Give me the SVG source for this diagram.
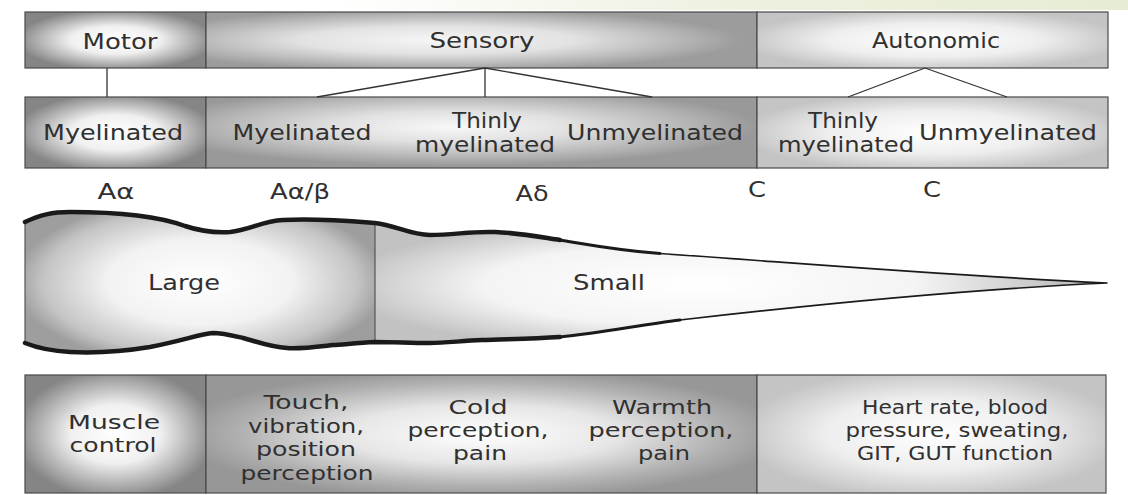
<svg xmlns="http://www.w3.org/2000/svg" width="1128" height="495" viewBox="0 0 1128 495">
<style>
.t{font-family:"DejaVu Sans","Liberation Sans",sans-serif;font-size:22px;fill:#303030;text-anchor:middle}
.s{font-size:21px}
.b{font-size:20px}
.box{stroke:#4a4a4a;stroke-width:1.2}
.con{stroke:#333;stroke-width:1.3;fill:none}
.edge{stroke:#1a1a1a;fill:none;stroke-linecap:round;stroke-linejoin:round}
</style>
<defs>
<linearGradient id="band" x1="0" y1="0" x2="1" y2="0">
<stop offset="0.3" stop-color="#ffffff"/>
<stop offset="0.65" stop-color="#eef0e0"/>
<stop offset="1" stop-color="#e6edd4"/>
</linearGradient>
<radialGradient id="gDark" cx="0.5" cy="0.5" r="0.55">
<stop offset="0" stop-color="#ffffff"/>
<stop offset="0.45" stop-color="#f0f0f0"/>
<stop offset="0.78" stop-color="#b0b0b0"/>
<stop offset="1" stop-color="#858585"/>
</radialGradient>
<radialGradient id="gSens1" cx="0.42" cy="0.5" r="0.55">
<stop offset="0" stop-color="#f6f6f6"/>
<stop offset="0.45" stop-color="#e2e2e2"/>
<stop offset="0.8" stop-color="#b6b6b6"/>
<stop offset="1" stop-color="#9c9c9c"/>
</radialGradient>
<radialGradient id="gSens2" cx="0.45" cy="0.42" r="0.55">
<stop offset="0" stop-color="#f8f8f8"/>
<stop offset="0.4" stop-color="#e0e0e0"/>
<stop offset="0.8" stop-color="#b2b2b2"/>
<stop offset="1" stop-color="#999999"/>
</radialGradient>
<radialGradient id="gSens3" cx="0.5" cy="0.5" r="0.55">
<stop offset="0" stop-color="#ffffff"/>
<stop offset="0.45" stop-color="#e6e6e6"/>
<stop offset="0.8" stop-color="#b0b0b0"/>
<stop offset="1" stop-color="#979797"/>
</radialGradient>
<radialGradient id="gAuto" cx="0.5" cy="0.5" r="0.55">
<stop offset="0" stop-color="#ffffff"/>
<stop offset="0.55" stop-color="#eeeeee"/>
<stop offset="1" stop-color="#c4c4c4"/>
</radialGradient>
<radialGradient id="gLarge" gradientUnits="userSpaceOnUse" cx="200" cy="282" r="1" gradientTransform="translate(200 282) scale(185 85) translate(-200 -282)">
<stop offset="0" stop-color="#ffffff"/>
<stop offset="0.5" stop-color="#f2f2f2"/>
<stop offset="0.85" stop-color="#c4c4c4"/>
<stop offset="1" stop-color="#9e9e9e"/>
</radialGradient>
<radialGradient id="gSmall" gradientUnits="userSpaceOnUse" cx="700" cy="285" r="1" gradientTransform="translate(700 285) scale(360 68) translate(-700 -285)">
<stop offset="0" stop-color="#ffffff"/>
<stop offset="0.6" stop-color="#f4f4f4"/>
<stop offset="1" stop-color="#c2c2c2"/>
</radialGradient>
<clipPath id="cL"><rect x="0" y="180" width="375" height="200"/></clipPath>
<clipPath id="cR"><rect x="375" y="180" width="753" height="200"/></clipPath>
<path id="fiber" d="M25,222 C40,215 52,212 70,212 C110,212 155,215 185,226 C200,231 215,233 230,232 C250,230 262,221 283,220 C315,218 350,221 375,223 C395,225 410,235 430,235 C455,235 470,231 495,232 C520,233 540,237 560,240 C585,244 615,250 660,253.5 C810,264 955,276 1107,283 C955,290 810,305 680,320 C640,325 600,333 560,337 C530,339 505,339 482,340 C460,341 445,343 430,343 C410,343 395,342 375,342 C355,343 340,345 333,345 C315,347 300,349 287,348 C270,347 255,341 243,338 C230,335 222,333 213,333 C200,334 185,340 150,347 C120,352 90,353 70,352 C50,351 35,347 25,343 Z"/>
</defs>

<rect x="0" y="0" width="1128" height="495" fill="#ffffff"/>
<rect x="0" y="0" width="1128" height="10" fill="url(#band)"/>

<!-- Row 1 -->
<g id="motor">
<rect class="box" x="25" y="12" width="181" height="56" fill="url(#gDark)"/>
<text class="t" x="120" y="49" textLength="75" lengthAdjust="spacingAndGlyphs">Motor</text>
</g>
<g id="sensory">
<rect class="box" x="206" y="12" width="551" height="56" fill="url(#gSens1)"/>
<text class="t" x="482" y="48" textLength="105" lengthAdjust="spacingAndGlyphs">Sensory</text>
</g>
<g id="autonomic">
<rect class="box" x="757" y="12" width="351" height="56" fill="url(#gAuto)"/>
<text class="t" x="936" y="48" textLength="128" lengthAdjust="spacingAndGlyphs">Autonomic</text>
</g>

<!-- Row 2 -->
<g id="motor-myelinated">
<rect class="box" x="25" y="97" width="181" height="71" fill="url(#gDark)"/>
<text class="t" x="113" y="140" textLength="140" lengthAdjust="spacingAndGlyphs">Myelinated</text>
</g>
<g id="sensory-fibres">
<rect class="box" x="206" y="97" width="551" height="71" fill="url(#gSens2)"/>
<text class="t" x="302" y="140" textLength="139" lengthAdjust="spacingAndGlyphs">Myelinated</text>
<text class="t" x="487" y="128" textLength="70" lengthAdjust="spacingAndGlyphs">Thinly</text>
<text class="t" x="485" y="152" textLength="140" lengthAdjust="spacingAndGlyphs">myelinated</text>
<text class="t" x="655" y="140" textLength="176" lengthAdjust="spacingAndGlyphs">Unmyelinated</text>
</g>
<g id="autonomic-fibres">
<rect class="box" x="757" y="97" width="351" height="71" fill="url(#gAuto)"/>
<text class="t" x="843" y="128" textLength="70" lengthAdjust="spacingAndGlyphs">Thinly</text>
<text class="t" x="846" y="152" textLength="136" lengthAdjust="spacingAndGlyphs">myelinated</text>
<text class="t" x="1008" y="140" textLength="178" lengthAdjust="spacingAndGlyphs">Unmyelinated</text>
</g>

<!-- Connectors -->
<g id="connectors">
<line class="con" x1="107" y1="68" x2="107" y2="97"/>
<line class="con" x1="485" y1="68" x2="317" y2="97"/>
<line class="con" x1="485" y1="68" x2="485" y2="97"/>
<line class="con" x1="485" y1="68" x2="652" y2="97"/>
<line class="con" x1="925" y1="68" x2="848" y2="97"/>
<line class="con" x1="925" y1="68" x2="1007" y2="97"/>
</g>

<!-- Fibre type labels -->
<g id="fibre-labels">
<text class="t s" x="116" y="199" textLength="37" lengthAdjust="spacingAndGlyphs">Aα</text>
<text class="t s" x="300" y="199" textLength="60" lengthAdjust="spacingAndGlyphs">Aα/β</text>
<text class="t s" x="532" y="201" textLength="33" lengthAdjust="spacingAndGlyphs">Aδ</text>
<text class="t s" x="757" y="197" textLength="18" lengthAdjust="spacingAndGlyphs">C</text>
<text class="t s" x="932" y="197" textLength="18" lengthAdjust="spacingAndGlyphs">C</text>
</g>

<!-- Fibre shape -->
<g id="fibre">
<use href="#fiber" fill="url(#gLarge)" clip-path="url(#cL)"/>
<use href="#fiber" fill="url(#gSmall)" clip-path="url(#cR)"/>
<line x1="25" y1="222" x2="25" y2="343" stroke="#555" stroke-width="1.2"/>
<line x1="375" y1="223" x2="375" y2="342" stroke="#555" stroke-width="1.2"/>
<path class="edge" stroke-width="4.5" d="M25,222 C40,215 52,212 70,212 C110,212 155,215 185,226 C200,231 215,233 230,232 C250,230 262,221 283,220 C315,218 350,221 375,223 C395,225 410,235 430,235 C455,235 470,231 495,232 C520,233 540,237 560,240"/>
<path class="edge" stroke-width="3" d="M560,240 C585,244 615,250 660,253.5"/>
<path class="edge" stroke-width="1.7" d="M660,253.5 C810,264 955,276 1107,283 C955,290 810,305 680,320"/>
<path class="edge" stroke-width="3" d="M680,320 C640,325 600,333 560,337"/>
<path class="edge" stroke-width="4.5" d="M560,337 C530,339 505,339 482,340 C460,341 445,343 430,343 C410,343 395,342 375,342 C355,343 340,345 333,345 C315,347 300,349 287,348 C270,347 255,341 243,338 C230,335 222,333 213,333 C200,334 185,340 150,347 C120,352 90,353 70,352 C50,351 35,347 25,343"/>
<text class="t s" x="184" y="290" textLength="72" lengthAdjust="spacingAndGlyphs">Large</text>
<text class="t s" x="609" y="290" textLength="72" lengthAdjust="spacingAndGlyphs">Small</text>
</g>

<!-- Bottom row -->
<g id="muscle-control">
<rect class="box" x="25" y="375" width="181" height="118" fill="url(#gDark)"/>
<text class="t b" x="114" y="429" textLength="92" lengthAdjust="spacingAndGlyphs">Muscle</text>
<text class="t b" x="113" y="452" textLength="87" lengthAdjust="spacingAndGlyphs">control</text>
</g>
<g id="sensory-functions">
<rect class="box" x="206" y="375" width="551" height="118" fill="url(#gSens3)"/>
<text class="t b" x="306" y="409" textLength="85" lengthAdjust="spacingAndGlyphs">Touch,</text>
<text class="t b" x="306" y="432.5" textLength="116" lengthAdjust="spacingAndGlyphs">vibration,</text>
<text class="t b" x="306" y="456" textLength="100" lengthAdjust="spacingAndGlyphs">position</text>
<text class="t b" x="307" y="479.5" textLength="133" lengthAdjust="spacingAndGlyphs">perception</text>
<text class="t b" x="478" y="414" textLength="59" lengthAdjust="spacingAndGlyphs">Cold</text>
<text class="t b" x="478" y="437" textLength="141" lengthAdjust="spacingAndGlyphs">perception,</text>
<text class="t b" x="480" y="460" textLength="54" lengthAdjust="spacingAndGlyphs">pain</text>
<text class="t b" x="662" y="414" textLength="100" lengthAdjust="spacingAndGlyphs">Warmth</text>
<text class="t b" x="661" y="437" textLength="145" lengthAdjust="spacingAndGlyphs">perception,</text>
<text class="t b" x="664" y="460" textLength="52" lengthAdjust="spacingAndGlyphs">pain</text>
</g>
<g id="autonomic-functions">
<rect class="box" x="757" y="375" width="349" height="118" fill="url(#gAuto)"/>
<text class="t b" x="955" y="414" textLength="186" lengthAdjust="spacingAndGlyphs">Heart rate, blood</text>
<text class="t b" x="957" y="437" textLength="223" lengthAdjust="spacingAndGlyphs">pressure, sweating,</text>
<text class="t b" x="955" y="460" textLength="196" lengthAdjust="spacingAndGlyphs">GIT, GUT function</text>
</g>
</svg>
